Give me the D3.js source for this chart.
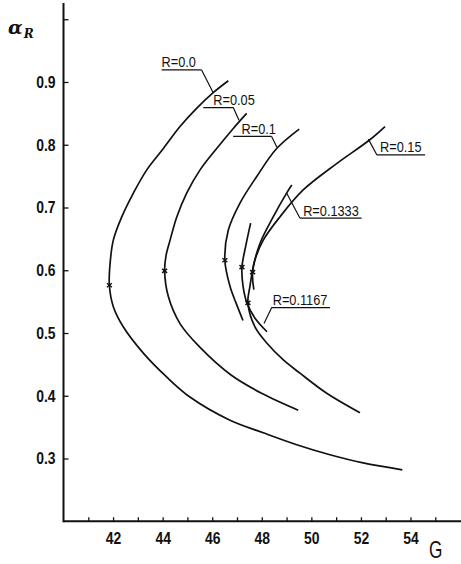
<!DOCTYPE html>
<html>
<head>
<meta charset="utf-8">
<script src="https://cdn.jsdelivr.net/npm/d3@7"></script>
<style>
  html, body { margin: 0; padding: 0; background: #fff; }
  svg { display: block; }
  text { font-family: 'Liberation Sans', Arial, sans-serif; fill: #111; }
</style>
</head>
<body>
<svg class="chart" width="461" height="564"></svg>
<script>
// neutral curves, [G, alphaR]
const curveR0000 = [[46.65, 0.902], [46.04, 0.883], [45.37, 0.858], [44.70, 0.829], [44.03, 0.794],
  [43.36, 0.760], [42.82, 0.723], [42.35, 0.685], [42.01, 0.648], [41.88, 0.611], [41.85, 0.576],
  [42.01, 0.542], [42.41, 0.510], [43.22, 0.468], [44.16, 0.430], [45.10, 0.398], [46.72, 0.361],
  [48.06, 0.341], [49.41, 0.322], [50.75, 0.306], [52.09, 0.293], [53.67, 0.282]];
const curveR0500 = [[47.39, 0.850], [46.85, 0.826], [46.18, 0.794], [45.51, 0.760], [44.97, 0.723],
  [44.57, 0.685], [44.30, 0.648], [44.14, 0.624], [44.08, 0.599], [44.23, 0.558], [44.70, 0.515],
  [45.51, 0.477], [46.76, 0.433], [47.99, 0.404], [49.47, 0.377]];
const curveR1000 = [[49.51, 0.825], [48.60, 0.794], [47.79, 0.749], [47.12, 0.707], [46.65, 0.664],
  [46.51, 0.616], [46.72, 0.574], [46.96, 0.548], [47.24, 0.520]];
const curveR1167 = [[47.55, 0.675], [47.36, 0.640], [47.20, 0.605], [47.24, 0.576], [47.40, 0.548],
  [47.72, 0.524], [48.21, 0.502]];
const curveR1333 = [[49.21, 0.736], [49.00, 0.723], [48.46, 0.685], [47.93, 0.643], [47.63, 0.597],
  [47.68, 0.569]];
const curveR1500 = [[52.97, 0.829], [52.36, 0.808], [51.02, 0.770], [49.67, 0.728], [48.73, 0.685],
  [48.06, 0.648], [47.72, 0.616], [47.52, 0.574], [47.44, 0.548], [47.72, 0.510], [48.20, 0.484],
  [48.87, 0.457], [49.54, 0.436], [50.62, 0.404], [51.96, 0.373]];
const curves = [curveR0000, curveR0500, curveR1000, curveR1167, curveR1333, curveR1500];

// critical points (noses)
const criticalPoints = [[41.85, 0.576], [44.08, 0.599], [46.51, 0.616], [47.20, 0.605], [47.63, 0.597], [47.44, 0.548]];

// labels and where their leaders touch the curves
const labelTexts = ['R=0.0', 'R=0.05', 'R=0.1', 'R=0.15', 'R=0.1333', 'R=0.1167'];
const labelTargets = [[46.04, 0.883], [47.08, 0.839], [48.61, 0.796], [52.30, 0.809], [49.00, 0.723], [48.09, 0.515]];

const xTicks = [41, 42, 43, 44, 45, 46, 47, 48, 49, 50, 51, 52, 53, 54, 55];
const xTickLabels = [42, 44, 46, 48, 50, 52, 54];
const yTicks = [0.3, 0.4, 0.5, 0.6, 0.7, 0.8, 0.9, 1.0];
const yTickLabels = [0.3, 0.4, 0.5, 0.6, 0.7, 0.8, 0.9];

const svg = d3.select('.chart');
const x = d3.scaleLinear().domain([40, 54]).range([63.5, 410.5]);
const y = d3.scaleLinear().domain([0.3, 0.9]).range([458.5, 82]);
const x0 = x(40), y0 = y(0.2);
const narrow = 0.82; // the original lettering is condensed

// axes
const xAxis = d3.axisBottom(x).tickValues(xTicks).tickSizeInner(-4).tickSizeOuter(0)
  .tickFormat(d => xTickLabels.includes(d) ? d : '');
const gx = svg.append('g').attr('transform', `translate(0,${y0})`).call(xAxis);
gx.select('.domain').remove();
gx.selectAll('.tick line').attr('stroke', '#111').attr('stroke-width', 1.3);
gx.selectAll('.tick text').attr('y', 7).attr('dy', '0.95em').attr('transform', `scale(${narrow},1)`)
  .style('font-size', '17px').style('font-weight', 'bold');
svg.append('line').attr('x1', x0).attr('x2', 461).attr('y1', y0).attr('y2', y0)
  .attr('stroke', '#111').attr('stroke-width', 2);

const yAxis = d3.axisLeft(y).tickValues(yTicks).tickSizeInner(-5).tickSizeOuter(0)
  .tickFormat(d => yTickLabels.some(v => Math.abs(v - d) < 1e-9) ? d3.format('.1f')(d) : '');
const gy = svg.append('g').attr('transform', `translate(${x0},0)`).call(yAxis);
gy.select('.domain').remove();
gy.selectAll('.tick line').attr('stroke', '#111').attr('stroke-width', 1.3);
gy.selectAll('.tick text').attr('x', -8 / narrow).attr('transform', `scale(${narrow},1)`)
  .style('font-size', '17px').style('font-weight', 'bold');
svg.append('line').attr('x1', x0).attr('x2', x0).attr('y1', 3).attr('y2', y0 + 1)
  .attr('stroke', '#111').attr('stroke-width', 2);

// axis titles
const yTitle = svg.append('text').attr('x', 8).attr('y', 34)
  .style('font-family', "'DejaVu Serif', serif").style('font-style', 'italic')
  .style('font-weight', 'bold').style('font-size', '19px');
yTitle.append('tspan').text('α');
yTitle.append('tspan').attr('dy', 4).attr('dx', 1).style('font-size', '12px').text('R');
svg.append('text').attr('transform', 'translate(429,558) scale(0.72,1)').style('font-size', '24px').text('G');

// curves
const line = d3.line().x(d => x(d[0])).y(d => y(d[1])).curve(d3.curveCatmullRom.alpha(0.5));
svg.append('g').selectAll('path').data(curves).enter().append('path')
  .attr('d', line).attr('fill', 'none').attr('stroke', '#111').attr('stroke-width', 1.7);

// small crosses at the noses
const marks = svg.append('g').attr('stroke', '#111').attr('stroke-width', 1.4);
criticalPoints.forEach(p => {
  const cx = x(p[0]), cy = y(p[1]);
  marks.append('line').attr('x1', cx - 2.5).attr('x2', cx + 2.5).attr('y1', cy - 2).attr('y2', cy + 2);
  marks.append('line').attr('x1', cx - 2.5).attr('x2', cx + 2.5).attr('y1', cy + 2).attr('y2', cy - 2);
});

// leader layout: elbow offset from target, underline span and text start relative to the elbow
const leaders = [
  {dx: -11.6, dy: -22.7, u0: -40, u1: 0, tx: -40},
  {dx: -5.7, dy: -12.7, u0: -30, u1: 0, tx: -20},
  {dx: -5.3, dy: -10.8, u0: -38.4, u1: 0, tx: -30},
  {dx: 8.4, dy: 15.7, u0: 0, u1: 48.3, tx: 3.3},
  {dx: 13.3, dy: 25, u0: 0, u1: 61.7, tx: 3.3},
  {dx: 7.7, dy: -16, u0: 0, u1: 58.3, tx: 1}
];
const ann = svg.append('g');
labelTexts.forEach((t, i) => {
  const px = x(labelTargets[i][0]), py = y(labelTargets[i][1]);
  const L = leaders[i];
  const ex = px + L.dx, ey = py + L.dy;
  ann.append('path')
    .attr('d', `M${px},${py}L${ex},${ey}M${ex + L.u0},${ey}L${ex + L.u1},${ey}`)
    .attr('fill', 'none').attr('stroke', '#111').attr('stroke-width', 1.2);
  ann.append('text').attr('transform', `translate(${ex + L.tx},${ey - 2.5}) scale(0.85,1)`)
    .style('font-size', '15px').text(t);
});
</script>
</body>
</html>
